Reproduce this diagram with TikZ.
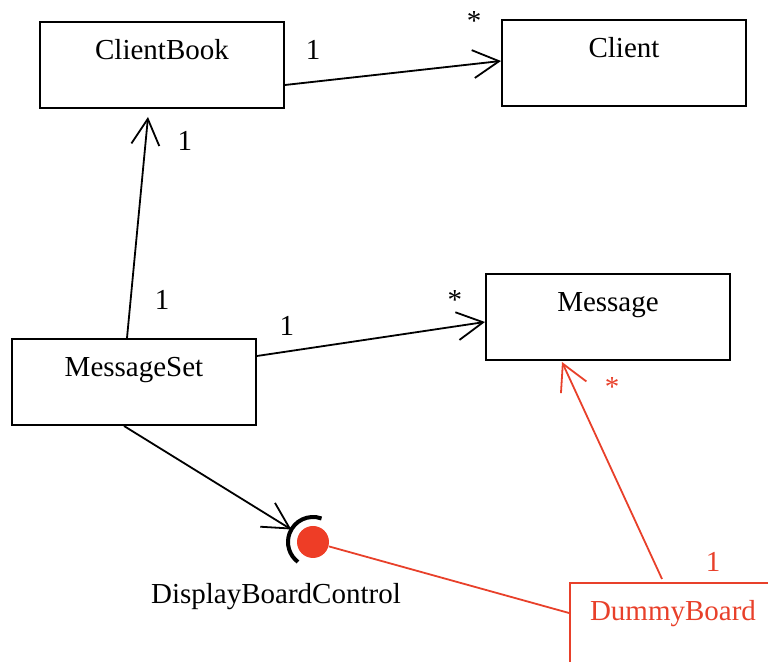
\documentclass[tikz,border=0pt]{standalone}
\usepackage{fontspec}
\setmainfont{Liberation Serif}
\usetikzlibrary{arrows.meta,positioning,calc}
\definecolor{ink}{HTML}{000000}
\definecolor{umlred}{HTML}{E8402A}
\definecolor{ballred}{HTML}{EE3D26}
\tikzset{
  classbox/.style={draw=ink, line width=1pt, minimum width=122pt, inner xsep=0pt, inner ysep=0pt, text height=19pt, text depth=24pt, anchor=north, font=\fontsize{14.5}{17}\selectfont},
  redbox/.style={classbox, draw=umlred, text=umlred, minimum width=103pt},
  mult/.style={anchor=base, inner sep=0pt, font=\fontsize{14.5}{17}\selectfont},
  redmult/.style={mult, text=umlred},
  ball/.style={circle, fill=ballred, minimum size=16pt, inner sep=0pt},
  socket/.style={draw=ink, line width=2pt},
  assoc/.style={-{Straight Barb[length=13pt,width=14pt]}, line width=0.9pt, draw=ink},
  redassoc/.style={assoc, draw=umlred},
  wire/.style={line width=0.9pt, draw=umlred}
}
\begin{document}
\begin{tikzpicture}[x=0.5pt,y=0.5pt]
\useasboundingbox (0,0) rectangle (768,662);
\clip (0,0) rectangle (768,662);
\node[classbox] (book) at (162,641) {ClientBook};
\node[classbox] (client) at (624,643) {Client};
\node[classbox] (msg) at (608,389) {Message};
\node[classbox] (mset) at (134,324) {MessageSet};
\node[redbox] (dummy) at (673,80) {DummyBoard};
\node[ball] (iface) at (313,120) {};
\draw[socket] ($(iface.center)+(70:12.5pt)$) arc[start angle=70, end angle=233, radius=12.5pt];
\coordinate (sock) at ($(iface.center)+(150:12.5pt)$);
\node[mult] (ifacelbl) at (276,58) {DisplayBoardControl};
% associations
\draw[assoc] ([yshift=-10pt]book.east) -- ([yshift=1pt]client.west);
\node[mult] (m1) at (313,602) {1};
\node[mult] (m2) at (474,631) {*};
\draw[assoc] ([xshift=-3.5pt]mset.north) -- ([xshift=-7pt,yshift=-4pt]book.south);
\node[mult] (m3) at (185,511) {1};
\node[mult] (m4) at (162,352) {1};
\draw[assoc] ([yshift=13pt]mset.east) -- ([yshift=-2.5pt]msg.west);
\node[mult] (m5) at (287,326) {1};
\node[mult] (m6) at (455,352) {*};
\draw[assoc] ([xshift=-5pt]mset.south) -- (sock);
% dummy board
\draw[redassoc] ([xshift=-5.5pt,yshift=1.5pt]dummy.north) -- ([xshift=-23pt,yshift=-0.5pt]msg.south);
\node[redmult] (m7) at (612,265) {*};
\node[redmult] (m8) at (713,90) {1};
\draw[wire] (iface) -- ([yshift=6.5pt]dummy.west);
\end{tikzpicture}
\end{document}
